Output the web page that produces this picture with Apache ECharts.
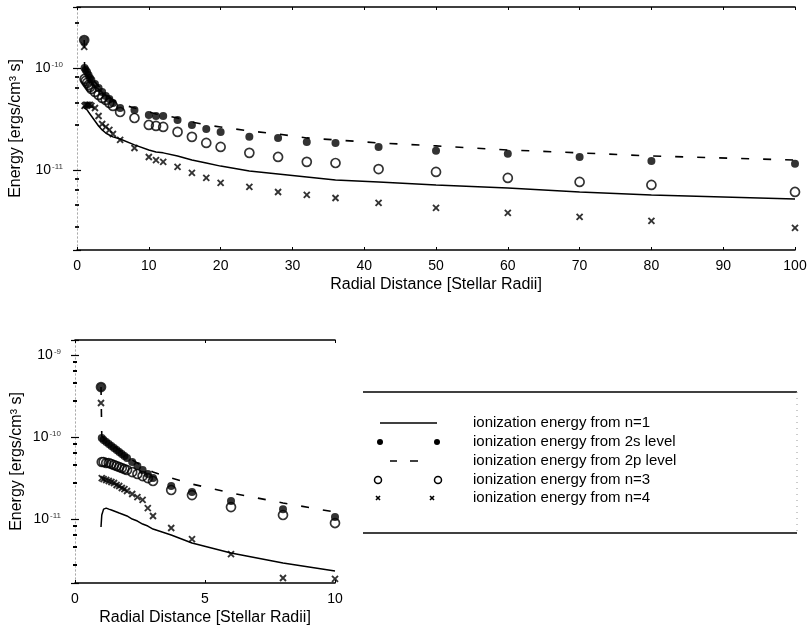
<!DOCTYPE html>
<html>
<head>
<meta charset="utf-8">
<script src="https://cdn.jsdelivr.net/npm/echarts@6/dist/echarts.min.js"></script>
<style>html,body{margin:0;padding:0;background:#fff}#c{width:812px;height:630px}</style>
</head>
<body>
<div id="c"></div>
<script>
// ---- Top panel (0-100 stellar radii) ----
const xTop = [1.0,1.05,1.2,1.4,1.6,1.8,2.0,2.5,3.0,3.5,4.0,4.5,5.0,6,8,10,11,12,14,16,18,20,24,28,32,36,42,50,60,70,80,100];
const topN1 = [4.05e-11,4.05e-11,3.96e-11,3.88e-11,3.70e-11,3.54e-11,3.38e-11,3.02e-11,2.70e-11,2.47e-11,2.30e-11,2.20e-11,2.11e-11,2.01e-11,1.76e-11,1.57e-11,1.50e-11,1.47e-11,1.37e-11,1.25e-11,1.17e-11,1.09e-11,9.78e-12,9.14e-12,8.54e-12,7.98e-12,7.63e-12,7.13e-12,6.66e-12,6.08e-12,5.69e-12,5.20e-12];
const top2s = [1.88e-10,1.00e-10,9.56e-11,9.14e-11,8.54e-11,7.98e-11,7.63e-11,6.97e-11,6.37e-11,5.82e-11,5.31e-11,4.97e-11,4.54e-11,4.05e-11,3.88e-11,3.46e-11,3.38e-11,3.38e-11,3.09e-11,2.76e-11,2.52e-11,2.36e-11,2.11e-11,2.06e-11,1.88e-11,1.84e-11,1.68e-11,1.54e-11,1.44e-11,1.34e-11,1.22e-11,1.15e-11];
const top2p = [1.88e-10,1.023e-10,9.78e-11,9.35e-11,8.93e-11,8.35e-11,7.98e-11,7.29e-11,6.66e-11,6.08e-11,5.56e-11,5.20e-11,4.86e-11,4.44e-11,4.05e-11,3.70e-11,3.54e-11,3.46e-11,3.23e-11,2.95e-11,2.76e-11,2.64e-11,2.41e-11,2.25e-11,2.06e-11,1.97e-11,1.84e-11,1.72e-11,1.57e-11,1.47e-11,1.37e-11,1.25e-11];
const topN3 = [1.88e-10,7.80e-11,7.46e-11,7.13e-11,6.81e-11,6.51e-11,6.22e-11,5.82e-11,5.44e-11,5.08e-11,4.86e-11,4.54e-11,4.24e-11,3.70e-11,3.23e-11,2.76e-11,2.70e-11,2.64e-11,2.36e-11,2.11e-11,1.84e-11,1.68e-11,1.47e-11,1.34e-11,1.20e-11,1.17e-11,1.02e-11,9.56e-12,8.35e-12,7.63e-12,7.13e-12,6.08e-12];
const topN4 = [1.61e-10,4.24e-11,4.34e-11,4.34e-11,4.34e-11,4.34e-11,4.24e-11,4.05e-11,3.38e-11,2.82e-11,2.64e-11,2.47e-11,2.25e-11,1.97e-11,1.64e-11,1.34e-11,1.25e-11,1.20e-11,1.07e-11,9.35e-12,8.35e-12,7.46e-12,6.81e-12,6.08e-12,5.69e-12,5.31e-12,4.75e-12,4.24e-12,3.79e-12,3.46e-12,3.16e-12,2.70e-12];

// ---- Bottom panel (0-10 stellar radii) ----
const xBot = [1.0,1.03,1.1,1.2,1.3,1.4,1.5,1.6,1.7,1.8,1.9,2.0,2.2,2.4,2.6,2.8,3.0,3.7,4.5,6,8,10];
const botN1 = [7.99e-12,1.12e-11,1.32e-11,1.36e-11,1.32e-11,1.288e-11,1.252e-11,1.217e-11,1.183e-11,1.151e-11,1.12e-11,1.09e-11,1.00e-11,9.45e-12,8.69e-12,8.21e-12,7.55e-12,6.38e-12,5.10e-12,3.85e-12,2.91e-12,2.32e-12];
const bot2s = [4.07e-10,9.72e-11,9.19e-11,8.69e-11,8.21e-11,7.77e-11,7.34e-11,6.94e-11,6.56e-11,6.20e-11,5.87e-11,5.54e-11,4.96e-11,4.43e-11,3.96e-11,3.54e-11,3.16e-11,2.53e-11,2.13e-11,1.66e-11,1.32e-11,1.06e-11];
const bot2p = [4.07e-10,1.028e-10,9.72e-11,9.19e-11,8.69e-11,8.21e-11,7.77e-11,7.34e-11,6.94e-11,6.56e-11,6.20e-11,5.87e-11,5.24e-11,4.82e-11,4.43e-11,4.07e-11,3.74e-11,3.16e-11,2.67e-11,2.08e-11,1.57e-11,1.217e-11];
const botN3 = [4.07e-10,4.96e-11,4.96e-11,4.82e-11,4.82e-11,4.69e-11,4.56e-11,4.43e-11,4.31e-11,4.19e-11,4.07e-11,3.96e-11,3.74e-11,3.54e-11,3.34e-11,3.16e-11,2.91e-11,2.26e-11,1.96e-11,1.40e-11,1.12e-11,8.94e-12];
const botN4 = [2.60e-10,3.16e-11,3.07e-11,2.99e-11,2.91e-11,2.83e-11,2.75e-11,2.60e-11,2.53e-11,2.39e-11,2.32e-11,2.20e-11,2.02e-11,1.85e-11,1.71e-11,1.36e-11,1.09e-11,7.77e-12,5.70e-12,3.74e-12,1.91e-12,1.86e-12];

const seriesNames = ['ionization energy from n=1','ionization energy from 2s level','ionization energy from 2p level','ionization energy from n=3','ionization energy from n=4'];
const xTitle = 'Radial Distance [Stellar Radii]';
const yTitle = 'Energy [ergs/cm\u00B3 s]';

const FONT = '"Liberation Sans", Arial, Helvetica, sans-serif';
const zip = (xs, ys) => xs.map((x, i) => [x, ys[i]]);
const CROSS = 'path://M0,0L10,10M10,0L0,10';

function expLabel(v) {
  const e = Math.log10(v);
  const r = Math.round(e);
  if (Math.abs(e - r) > 1e-6) return '';
  return '10{s|' + r + '}';
}

function xAx(grid, min, max, interval) {
  return [{
    gridIndex: grid, type: 'value', min: min, max: max, interval: interval, position: 'bottom',
    axisLine: {show: true, lineStyle: {color: '#000', width: 1.6}},
    axisTick: {show: true, inside: true, length: 3, lineStyle: {color: '#000'}},
    axisLabel: {color: '#000', fontSize: 14, fontFamily: FONT, margin: 9},
    splitLine: {show: false},
    name: xTitle, nameLocation: 'middle', nameGap: 27,
    nameTextStyle: {color: '#000', fontSize: 16, fontFamily: FONT}
  }, {
    gridIndex: grid, type: 'value', min: min, max: max, interval: interval, position: 'top',
    axisLine: {show: true, lineStyle: {color: '#000', width: 1.6}},
    axisTick: {show: true, inside: true, length: 3, lineStyle: {color: '#000'}},
    axisLabel: {show: false}, splitLine: {show: false}
  }];
}

function yAx(grid, min, max) {
  const common = {
    gridIndex: grid, type: 'log', logBase: 10, min: min, max: max,
    axisLine: {show: true, lineStyle: {color: '#aaa', width: 1, type: [1, 3]}},
    axisTick: {show: true, inside: true, length: 4, lineStyle: {color: '#000', width: 1.2}},
    minorTick: {show: true, splitNumber: 5, length: 2, lineStyle: {color: '#000', width: 1.8}},
    splitLine: {show: false}, minorSplitLine: {show: false}
  };
  return [Object.assign({}, common, {
    position: 'left',
    axisLabel: {
      color: '#000', fontSize: 14, fontFamily: FONT, margin: 14,
      formatter: expLabel,
      rich: {s: {fontSize: 8, fontFamily: FONT, color: '#333', verticalAlign: 'top', padding: [0, 0, 6, 1]}}
    },
    name: yTitle, nameLocation: 'middle', nameGap: 50, nameRotate: 90,
    nameTextStyle: {color: '#000', fontSize: 16, fontFamily: FONT}
  }), Object.assign({}, common, {position: 'right', axisLabel: {show: false}})];
}

function panelSeries(xi, yi, xs, n1, s2, p2, n3, n4) {
  return [
    {name: seriesNames[0], type: 'line', xAxisIndex: xi, yAxisIndex: yi, data: zip(xs, n1),
     symbol: 'none', lineStyle: {color: '#000', width: 1.5}, z: 2},
    {name: seriesNames[2], type: 'line', xAxisIndex: xi, yAxisIndex: yi, data: zip(xs, p2),
     symbol: 'none', lineStyle: {color: '#000', width: 1.6, type: [8, 14]}, z: 2},
    {name: seriesNames[3], type: 'scatter', xAxisIndex: xi, yAxisIndex: yi, data: zip(xs, n3),
     symbol: 'circle', symbolSize: 9, itemStyle: {color: 'rgba(0,0,0,0)', borderColor: '#000', borderWidth: 1.7}, z: 3},
    {name: seriesNames[1], type: 'scatter', xAxisIndex: xi, yAxisIndex: yi, data: zip(xs, s2),
     symbol: 'circle', symbolSize: 8, itemStyle: {color: '#000'}, z: 4},
    {name: seriesNames[4], type: 'scatter', xAxisIndex: xi, yAxisIndex: yi, data: zip(xs, n4),
     symbol: CROSS, symbolSize: 6, itemStyle: {color: '#000', borderColor: '#000', borderWidth: 1.9}, z: 5}
  ];
}

// legend drawn as graphic
const LX = 363, LR = 797, LT = 392, LB = 533, TX = 473;
const rowY = [423, 442, 461, 480, 498];
const legendGraphic = [
  {type: 'line', shape: {x1: LX, y1: LT, x2: LR, y2: LT}, style: {stroke: '#000', lineWidth: 1.6}},
  {type: 'line', shape: {x1: LX, y1: LB, x2: LR, y2: LB}, style: {stroke: '#000', lineWidth: 1.6}},
  {type: 'line', shape: {x1: LR, y1: LT, x2: LR, y2: LB}, style: {stroke: '#999', lineWidth: 1, lineDash: [1, 5]}},
  {type: 'line', shape: {x1: 380, y1: rowY[0], x2: 437, y2: rowY[0]}, style: {stroke: '#000', lineWidth: 1.5}},
  {type: 'circle', shape: {cx: 380, cy: rowY[1], r: 3}, style: {fill: '#000'}},
  {type: 'circle', shape: {cx: 437, cy: rowY[1], r: 3}, style: {fill: '#000'}},
  {type: 'line', shape: {x1: 390, y1: rowY[2], x2: 397, y2: rowY[2]}, style: {stroke: '#000', lineWidth: 1.5}},
  {type: 'line', shape: {x1: 410, y1: rowY[2], x2: 418, y2: rowY[2]}, style: {stroke: '#000', lineWidth: 1.5}},
  {type: 'circle', shape: {cx: 378, cy: rowY[3], r: 3.5}, style: {fill: '#fff', stroke: '#000', lineWidth: 1.5}},
  {type: 'circle', shape: {cx: 438, cy: rowY[3], r: 3.5}, style: {fill: '#fff', stroke: '#000', lineWidth: 1.5}},
  {type: 'polyline', shape: {points: [[376, rowY[4] - 2], [380, rowY[4] + 2]]}, style: {stroke: '#000', lineWidth: 1.6}},
  {type: 'polyline', shape: {points: [[380, rowY[4] - 2], [376, rowY[4] + 2]]}, style: {stroke: '#000', lineWidth: 1.6}},
  {type: 'polyline', shape: {points: [[430, rowY[4] - 2], [434, rowY[4] + 2]]}, style: {stroke: '#000', lineWidth: 1.6}},
  {type: 'polyline', shape: {points: [[434, rowY[4] - 2], [430, rowY[4] + 2]]}, style: {stroke: '#000', lineWidth: 1.6}}
];
seriesNames.forEach((t, i) => {
  legendGraphic.push({type: 'text', x: TX, y: rowY[i],
    style: {text: t, fill: '#000', font: '15px ' + FONT, verticalAlign: 'middle', align: 'left'}});
});

const chart = echarts.init(document.getElementById('c'), null, {renderer: 'canvas'});
chart.setOption({
  animation: false,
  backgroundColor: '#fff',
  grid: [
    {left: 74, right: 17, top: 7, bottom: 380},
    {left: 75, right: 477, top: 340, bottom: 47}
  ],
  xAxis: [].concat(xAx(0, 0, 100, 10), xAx(1, 0, 10, 5)),
  yAxis: [].concat(yAx(0, 1.64e-12, 3.96e-10), yAx(1, 1.66e-12, 1.524e-9)),
  series: [].concat(
    panelSeries(0, 0, xTop, topN1, top2s, top2p, topN3, topN4),
    panelSeries(2, 2, xBot, botN1, bot2s, bot2p, botN3, botN4)
  ),
  graphic: legendGraphic
});
</script>
</body>
</html>
